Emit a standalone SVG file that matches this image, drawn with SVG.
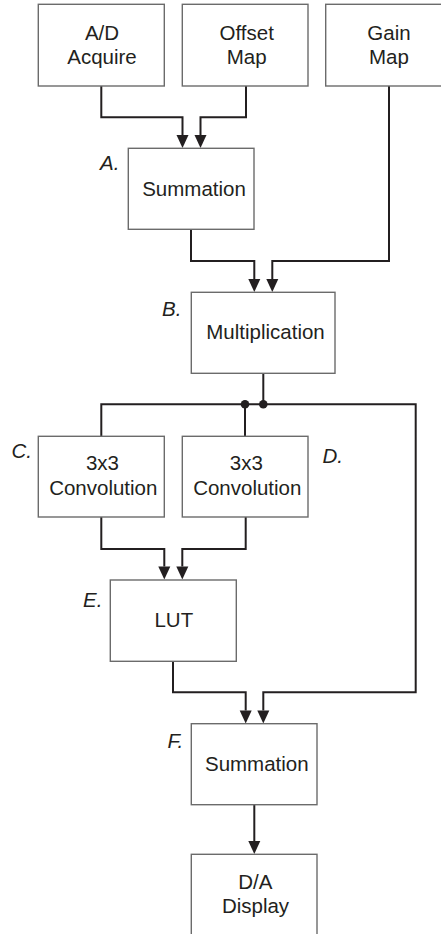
<svg xmlns="http://www.w3.org/2000/svg" width="441" height="934" viewBox="0 0 441 934">
<defs>
<style>
.box{fill:#fff;stroke:#6b6b6b;stroke-width:1.4}
.t{font-family:"Liberation Sans",Arial,sans-serif;font-size:20.5px;fill:#231f20;text-anchor:middle}
.l{font-family:"Liberation Sans",Arial,sans-serif;font-size:20.5px;font-style:italic;fill:#231f20}
.c{fill:none;stroke:#231f20;stroke-width:2}
.dot{fill:#231f20}
</style>
<marker id="ah" viewBox="0 0 12 13" refX="6" refY="13" markerWidth="12" markerHeight="13" markerUnits="userSpaceOnUse" orient="auto-start-reverse">
<path d="M0,0 L12,0 L6,13 Z" fill="#231f20"/>
</marker>
</defs>
<rect width="441" height="934" fill="#fff"/>
<g id="connectors">
<path class="c" d="M101.3,86 V117.3 H182.5 V135" />
<path d="M176.5,135 H188.5 L182.5,148 Z" fill="#231f20"/>
<path class="c" d="M246,86 V117.3 H200.5 V135" />
<path d="M194.5,135 H206.5 L200.5,148 Z" fill="#231f20"/>
<path class="c" d="M191,229 V261 H254.3 V279" />
<path d="M248.3,279 H260.3 L254.3,292 Z" fill="#231f20"/>
<path class="c" d="M389,86 V261 H272.3 V279" />
<path d="M266.3,279 H278.3 L272.3,292 Z" fill="#231f20"/>
<path class="c" d="M263.3,373 V404.3" />
<path class="c" d="M101.3,436.3 V404.3 H415.7 V692.3 H263.3 V710.5" />
<path class="c" d="M245,404.3 V436.3" />
<circle class="dot" cx="245" cy="404.3" r="4.3"/>
<circle class="dot" cx="263.3" cy="404.3" r="4.3"/>
<path class="c" d="M101.3,517 V549 H164.3 V566.5" />
<path d="M158.3,566.5 H170.3 L164.3,579.5 Z" fill="#231f20"/>
<path class="c" d="M245.7,517 V549 H182.3 V566.5" />
<path d="M176.3,566.5 H188.3 L182.3,579.5 Z" fill="#231f20"/>
<path class="c" d="M173,661 V692.3 H245.7 V710.5" />
<path d="M239.7,710.5 H251.7 L245.7,723.5 Z" fill="#231f20"/>
<path d="M257.3,710.5 H269.3 L263.3,723.5 Z" fill="#231f20"/>
<path class="c" d="M254.3,805 V841" />
<path d="M248.3,841 H260.3 L254.3,854 Z" fill="#231f20"/>
</g>
<g id="ad">
<rect class="box" x="38.3" y="4.3" width="126" height="81.7"/>
<text class="t" x="102" y="40">A/D</text>
<text class="t" x="102" y="63.5">Acquire</text>
</g>
<g id="offset">
<rect class="box" x="182.3" y="4.3" width="125.7" height="81.7"/>
<text class="t" x="246.7" y="40">Offset</text>
<text class="t" x="246.7" y="63.5">Map</text>
</g>
<g id="gain">
<rect class="box" x="325.7" y="4.3" width="126" height="81.7"/>
<text class="t" x="389" y="40">Gain</text>
<text class="t" x="389" y="63.5">Map</text>
</g>
<g id="sumA">
<rect class="box" x="128.3" y="148.3" width="125.7" height="81"/>
<text class="t" x="194" y="195.7">Summation</text>
<text class="l" x="100" y="170">A.</text>
</g>
<g id="mult">
<rect class="box" x="191.3" y="292.3" width="143.7" height="81"/>
<text class="t" x="265.5" y="339">Multiplication</text>
<text class="l" x="162" y="316">B.</text>
</g>
<g id="convC">
<rect class="box" x="38.3" y="436.3" width="126" height="80.7"/>
<text class="t" x="102.5" y="470">3x3</text>
<text class="t" x="103.3" y="495">Convolution</text>
<text class="l" x="11.5" y="458.3">C.</text>
</g>
<g id="convD">
<rect class="box" x="182.3" y="436.3" width="125.7" height="80.7"/>
<text class="t" x="246.3" y="470">3x3</text>
<text class="t" x="247.3" y="495">Convolution</text>
<text class="l" x="322.5" y="462.7">D.</text>
</g>
<g id="lut">
<rect class="box" x="110.3" y="580" width="126" height="81.3"/>
<text class="t" x="173.8" y="626.7">LUT</text>
<text class="l" x="83" y="606.7">E.</text>
</g>
<g id="sumF">
<rect class="box" x="191.3" y="723.7" width="125.7" height="81"/>
<text class="t" x="256.8" y="770.7">Summation</text>
<text class="l" x="167.5" y="747.7">F.</text>
</g>
<g id="da">
<rect class="box" x="191.3" y="854.3" width="125.7" height="81"/>
<text class="t" x="255.3" y="889.3">D/A</text>
<text class="t" x="255.5" y="912.7">Display</text>
</g>
</svg>
